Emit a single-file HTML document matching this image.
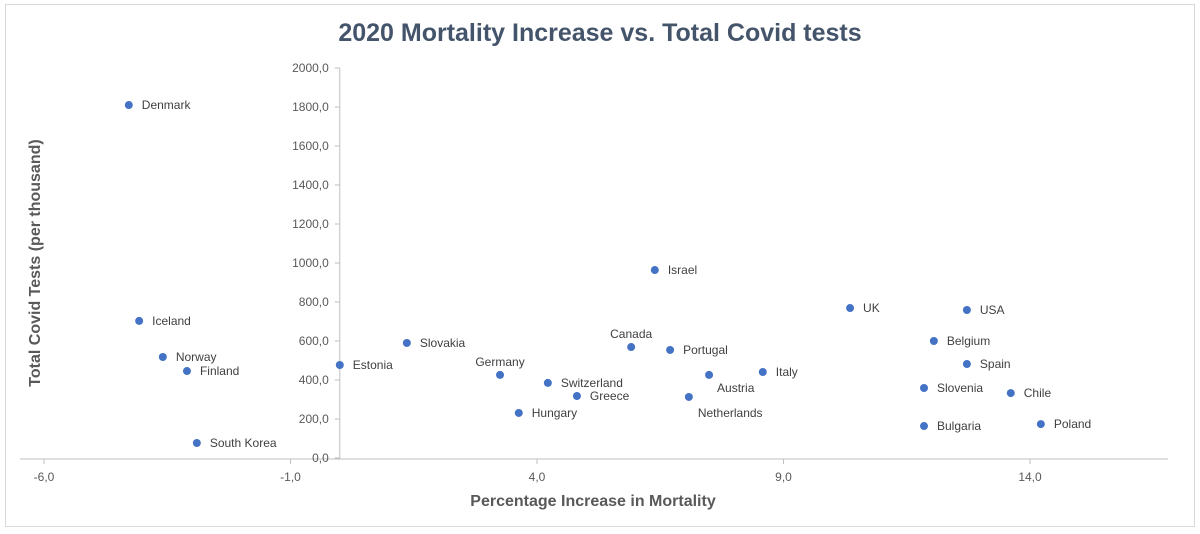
<!DOCTYPE html>
<html><head><meta charset="utf-8"><style>
body{margin:0;background:#fff;}
svg{display:block;font-family:"Liberation Sans",sans-serif;}
</style></head><body>
<svg id="c" width="1200" height="534">
<rect x="0" y="0" width="1200" height="534" fill="#fff"/>
<rect x="5.5" y="4.5" width="1189" height="522" fill="#fff" stroke="#d9d9d9"/>
<text x="600" y="41" text-anchor="middle" font-size="25" font-weight="bold" fill="#44546a">2020 Mortality Increase vs. Total Covid tests</text>
<text x="593" y="506" text-anchor="middle" font-size="16" font-weight="bold" fill="#595959">Percentage Increase in Mortality</text>
<text transform="translate(40,263) rotate(-90)" text-anchor="middle" font-size="16" font-weight="bold" fill="#595959">Total Covid Tests (per thousand)</text>
<g id="axes"></g>
<g id="marks"></g>
</svg>
<script>
const names=["Denmark","Iceland","Norway","Finland","South Korea","Estonia","Slovakia","Germany","Hungary","Switzerland","Greece","Canada","Israel","Portugal","Netherlands","Austria","Italy","UK","Slovenia","Bulgaria","Belgium","USA","Spain","Chile","Poland"];
const mortality=[-4.28,-4.07,-3.59,-3.10,-2.90,0.0,1.36,3.25,3.63,4.22,4.81,5.91,6.39,6.70,7.08,7.49,8.58,10.35,11.85,11.85,12.05,12.72,12.72,13.61,14.22];
const tests=[1810,703,518,446,77,477,590,426,231,385,318,569,964,554,313,426,441,769,359,164,600,759,482,333,174];
const labelPos=["r","r","r","r","r","r","r","t","r","r","r","t","r","r","b","b","r","r","r","r","r","r","r","r","r"];
const xTicks=[-6,-1,4,9,14];
const yTicks=[0,200,400,600,800,1000,1200,1400,1600,1800,2000];
const NS="http://www.w3.org/2000/svg";
const X=v=>44+(v+6)*49.3;
const Y=v=>458-v*0.195;
function mk(t,a,p,txt){const e=document.createElementNS(NS,t);for(const k in a)e.setAttribute(k,a[k]);if(txt!==undefined)e.textContent=txt;p.appendChild(e);return e;}
const ax=document.getElementById('axes'),mg=document.getElementById('marks');
let l=mk('line',{x1:20,x2:1168,y1:459,y2:459,stroke:'#bfbfbf'},ax);


l=mk('line',{x1:X(0),x2:X(0),y1:Y(2000),y2:459,stroke:'#bfbfbf'},ax);


xTicks.forEach(v=>{
  mk('line',{x1:X(v),x2:X(v),y1:459,y2:464,stroke:'#bfbfbf'},ax);
  const t=mk('text',{x:X(v),y:481,'text-anchor':'middle','font-size':12,fill:'#595959'},ax,v.toFixed(1).replace('.',','));
  
  
});
yTicks.forEach(v=>{
  mk('line',{x1:X(0)-5,x2:X(0),y1:Y(v),y2:Y(v),stroke:'#bfbfbf'},ax);
  const t=mk('text',{x:X(0)-11,y:Y(v)+4,'text-anchor':'end','font-size':12,fill:'#595959'},ax,v.toFixed(1).replace('.',','));
  
  
});
names.forEach((n,i)=>{
  const cx=X(mortality[i]),cy=Y(tests[i]);
  const c=mk('circle',{cx:cx,cy:cy,r:4,fill:'#4472c4'},mg);
  
  
  let a={'font-size':12,fill:'#404040'};
  if(labelPos[i]=='r'){a.x=cx+13;a.y=cy+4;}
  else if(labelPos[i]=='t'){a.x=cx;a.y=cy-9;a['text-anchor']='middle';}
  else {a.x=cx+8;a.y=cy+17;}
  if(n=='Netherlands'){a.x=cx+9;a.y=cy+20;}
  const t=mk('text',a,mg,n);
  
  
});
</script>
</body></html>
